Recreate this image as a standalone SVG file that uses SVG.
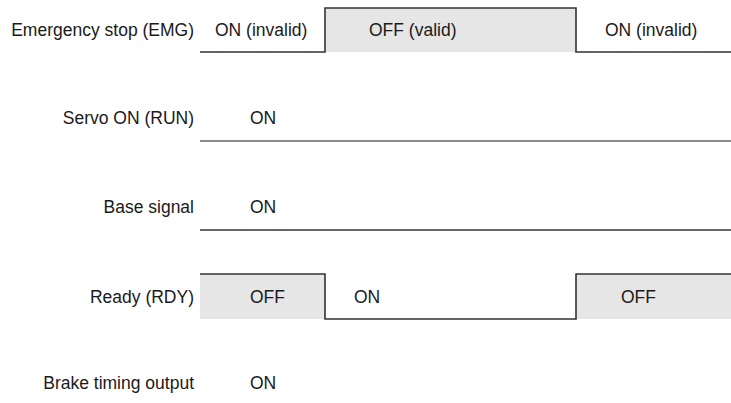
<svg xmlns="http://www.w3.org/2000/svg" width="731" height="403" viewBox="0 0 731 403">
<style>
text{font-family:"Liberation Sans",Arial,sans-serif;font-size:17.5px;fill:#1a1a1a}
.lbl{text-anchor:end}
.wave{fill:none;stroke:#333;stroke-width:1.6}
.grey{fill:#e6e6e6;stroke:none}
</style>
<rect width="731" height="403" fill="#fff"/>
<g id="emg">
<rect class="grey" x="325" y="8" width="251" height="44"/>
<text class="lbl" x="194" y="36">Emergency stop (EMG)</text>
<text x="215" y="36">ON (invalid)</text>
<text x="369" y="36">OFF (valid)</text>
<text x="605" y="36">ON (invalid)</text>
</g>
<g id="run">
<text class="lbl" x="194" y="124">Servo ON (RUN)</text>
<text x="250" y="124">ON</text>
</g>
<g id="base">
<text class="lbl" x="194" y="213">Base signal</text>
<text x="250" y="213">ON</text>
</g>
<g id="rdy">
<rect class="grey" x="200" y="274" width="125" height="45"/>
<rect class="grey" x="576" y="274" width="155" height="45"/>
<text class="lbl" x="194" y="303">Ready (RDY)</text>
<text x="250" y="303">OFF</text>
<text x="354" y="303">ON</text>
<text x="621" y="303">OFF</text>
</g>
<g id="brake">
<text class="lbl" x="194" y="389">Brake timing output</text>
<text x="250" y="389">ON</text>
</g>
<g id="connectors">
<polyline class="wave" points="200,52 325,52 325,8 576,8 576,52 731,52"/>
<line class="wave" x1="200" y1="141" x2="731" y2="141" style="stroke:#666"/>
<line class="wave" x1="200" y1="230" x2="731" y2="230"/>
<polyline class="wave" points="200,274 325,274 325,319 576,319 576,274 731,274"/>
</g>
</svg>
